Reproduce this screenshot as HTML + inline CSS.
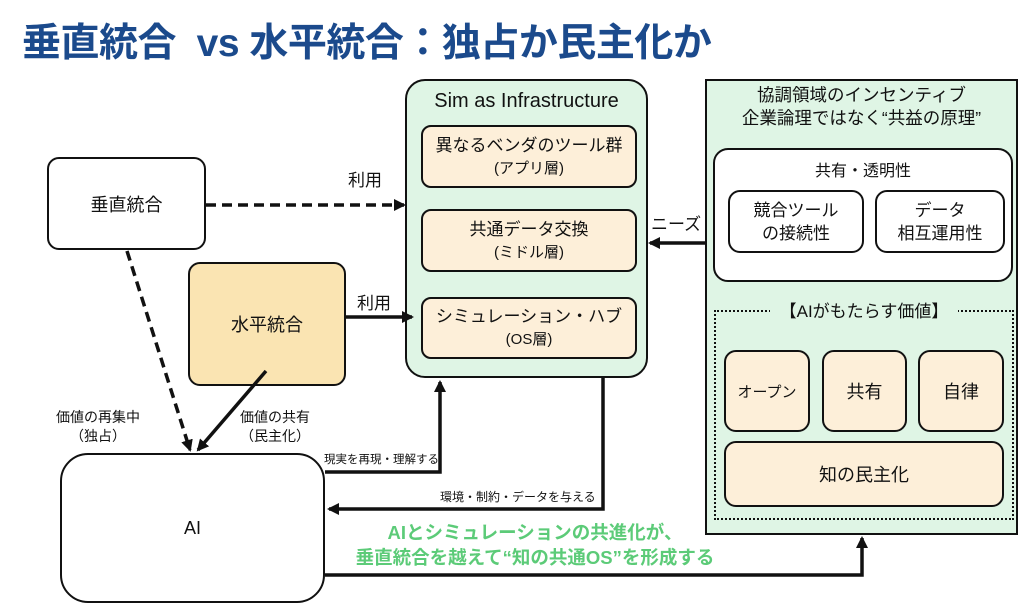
<!DOCTYPE html>
<html><head><meta charset="utf-8"><style>
body{margin:0;width:1024px;height:602px;background:#fff;position:relative;overflow:hidden;font-family:"Liberation Sans","Noto Sans CJK JP",sans-serif;color:#111}
.a{position:absolute;box-sizing:border-box}
.b{border:2px solid #111;display:flex;align-items:center;justify-content:center;text-align:center;flex-direction:column}
.t{position:absolute;white-space:nowrap}
</style></head><body>
<div class="t" style="left:22px;top:12px;font-size:39px;font-weight:bold;color:#1b4a8c;letter-spacing:-0.5px">垂直統合&nbsp; vs 水平統合：独占か民主化か</div>

<div class="a b" style="left:47px;top:157px;width:159px;height:93px;border-radius:12px;font-size:18px;background:#fff">垂直統合</div>
<div class="a b" style="left:188px;top:262px;width:158px;height:124px;border-radius:12px;font-size:18px;background:#fae4b2">水平統合</div>

<div class="a" style="left:405px;top:79px;width:243px;height:299px;border:2px solid #111;border-radius:20px;background:#dff5e5"></div>
<div class="t" style="left:405px;width:243px;text-align:center;top:90px;font-size:20px">Sim as Infrastructure</div>
<div class="a b" style="left:421px;top:125px;width:216px;height:63px;border-radius:10px;background:#fdefd9;font-size:17px;line-height:23px">異なるベンダのツール群<span style="font-size:15px">(アプリ層)</span></div>
<div class="a b" style="left:421px;top:209px;width:216px;height:63px;border-radius:10px;background:#fdefd9;font-size:17px;line-height:23px">共通データ交換<span style="font-size:15px">(ミドル層)</span></div>
<div class="a b" style="left:421px;top:297px;width:216px;height:62px;border-radius:10px;background:#fdefd9;font-size:17px;line-height:23px">シミュレーション・ハブ<span style="font-size:15px">(OS層)</span></div>

<div class="a" style="left:705px;top:79px;width:313px;height:456px;border:2px solid #111;background:#dff5e5"></div>
<div class="t" style="left:705px;width:313px;text-align:center;top:84px;font-size:17.5px;line-height:23px">協調領域のインセンティブ<br>企業論理ではなく“共益の原理”</div>
<div class="a" style="left:713px;top:148px;width:300px;height:134px;border:2px solid #111;border-radius:15px;background:#fff"></div>
<div class="t" style="left:713px;width:300px;text-align:center;top:157px;font-size:16px">共有・透明性</div>
<div class="a b" style="left:728px;top:190px;width:136px;height:63px;border-radius:12px;font-size:17px;line-height:23px">競合ツール<br>の接続性</div>
<div class="a b" style="left:875px;top:190px;width:130px;height:63px;border-radius:12px;font-size:17px;line-height:23px">データ<br>相互運用性</div>
<div class="a" style="left:714px;top:310px;width:300px;height:210px;border:2px dotted #111"></div>
<div class="t" style="left:770px;width:188px;text-align:center;top:300px;font-size:17px;background:#dff5e5;line-height:24px">【AIがもたらす価値】</div>
<div class="a b" style="left:724px;top:350px;width:86px;height:82px;border-radius:12px;background:#fdefd9;font-size:15px">オープン</div>
<div class="a b" style="left:822px;top:350px;width:85px;height:82px;border-radius:12px;background:#fdefd9;font-size:18px">共有</div>
<div class="a b" style="left:918px;top:350px;width:86px;height:82px;border-radius:12px;background:#fdefd9;font-size:18px">自律</div>
<div class="a b" style="left:724px;top:441px;width:280px;height:66px;border-radius:12px;background:#fdefd9;font-size:18px">知の民主化</div>

<div class="a b" style="left:60px;top:453px;width:265px;height:150px;border-radius:28px;background:#fff;font-size:18px">AI</div>

<svg class="a" style="left:0;top:0" width="1024" height="602">
<defs><marker id="m2" markerWidth="12" markerHeight="12" refX="10" refY="6" orient="auto" markerUnits="userSpaceOnUse"><path d="M0,0 L12,6 L0,12z" fill="#111"/></marker></defs>
<g stroke="#111" stroke-width="3.5" fill="none">
<line x1="206" y1="205" x2="404" y2="205" stroke-dasharray="10,6" marker-end="url(#m2)"/>
<line x1="346" y1="317" x2="412" y2="317" marker-end="url(#m2)"/>
<line x1="705" y1="243" x2="650" y2="243" marker-end="url(#m2)"/>
<line x1="127" y1="251" x2="190" y2="450" stroke-dasharray="10,6" marker-end="url(#m2)"/>
<line x1="266" y1="371" x2="198" y2="450" marker-end="url(#m2)"/>
<polyline points="325,472 440,472 440,382" marker-end="url(#m2)"/>
<polyline points="603,378 603,509 329,509" marker-end="url(#m2)"/>
<polyline points="325,575 862,575 862,538" marker-end="url(#m2)"/>
</g></svg>

<div class="t" style="left:348px;top:166px;font-size:17px">利用</div>
<div class="t" style="left:357px;top:289px;font-size:17px">利用</div>
<div class="t" style="left:651px;top:210px;font-size:17px">ニーズ</div>
<div class="t" style="left:56px;top:408px;font-size:14px;text-align:center;line-height:19px">価値の再集中<br>（独占）</div>
<div class="t" style="left:240px;top:408px;font-size:14px;text-align:center;line-height:19px">価値の共有<br>（民主化）</div>
<div class="t" style="left:324px;top:451px;font-size:11.5px">現実を再現・理解する</div>
<div class="t" style="left:440px;top:488px;font-size:12px">環境・制約・データを与える</div>
<div class="t" style="left:335px;top:520px;width:400px;text-align:center;font-size:18.5px;font-weight:bold;color:#5ccb78;line-height:25px">AIとシミュレーションの共進化が、<br>垂直統合を越えて“知の共通OS”を形成する</div>
</body></html>
